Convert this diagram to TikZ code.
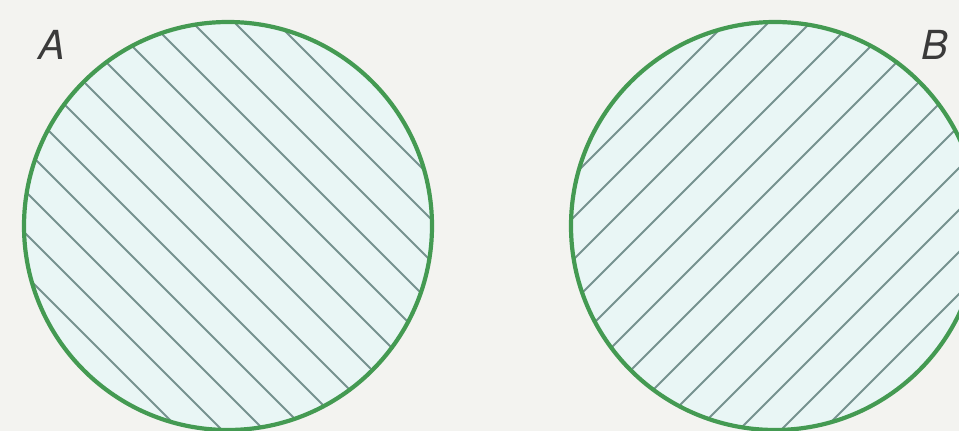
\documentclass[tikz,border=0pt]{standalone}
\usepackage{fontspec}
\setsansfont{TeX Gyre Heros}
\definecolor{bgc}{HTML}{F3F3F0}
\definecolor{fillc}{HTML}{E9F6F5}
\definecolor{hatchc}{HTML}{76928F}
\definecolor{rimc}{HTML}{449A52}
\definecolor{labc}{HTML}{3A3A3A}
\tikzset{
  hatchline/.style={draw=hatchc, line width=2.1pt},
  setdisk/.style={circle, draw=rimc, line width=4.2pt, fill=fillc, minimum size=408pt, inner sep=0pt},
  hatchA/.style={path picture={\begin{scope}[shift={(path picture bounding box.center)}]
     \foreach \k in {-630,-588,...,630} \draw[hatchline] (\k-300,300) -- (\k+300,-300);
     \end{scope}}},
  hatchB/.style={path picture={\begin{scope}[shift={(path picture bounding box.center)}]
     \foreach \k in {-630,-588,...,630} \draw[hatchline] (\k-300,-300) -- (\k+300,300);
     \end{scope}}},
  setlabel/.style={text=labc, font=\sffamily\itshape\fontsize{40}{40}\selectfont, inner sep=0pt}
}
\begin{document}
\begin{tikzpicture}[x=1pt,y=1pt]
\fill[bgc] (0,0) rectangle (959,431);
\useasboundingbox (0,0) rectangle (959,431);
\node[setdisk, hatchA] (circA) at (228,205) {};
\node[setdisk, hatchB] (circB) at (775,205) {};
\node[setlabel] (labA) at (52,386) {A};
\node[setlabel] (labB) at (935,386) {B};
\end{tikzpicture}
\end{document}
